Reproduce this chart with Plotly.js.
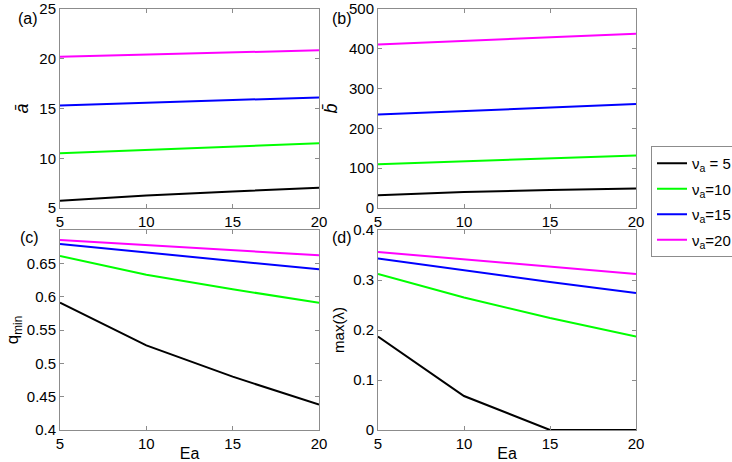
<!DOCTYPE html>
<html>
<head>
<meta charset="utf-8">
<script src="https://cdn.plot.ly/plotly-3.0.1.min.js"></script>
<style>html,body{margin:0;padding:0;background:#fff;}#chart{width:732px;height:462px;}</style>
</head>
<body>
<div id="chart"></div>
<script>
// Data
const Ea = [5, 10, 15, 20];
const seriesNames = ['ν<sub>a</sub> = 5', 'ν<sub>a</sub>=10', 'ν<sub>a</sub>=15', 'ν<sub>a</sub>=20'];
const seriesColors = ['#000000', '#00ff00', '#0000ff', '#ff00ff'];

// panel (a): a-bar
const aBar_5  = [5.72, 6.25, 6.65, 7.04];
const aBar_10 = [10.5, 10.85, 11.2, 11.5];
const aBar_15 = [15.3, 15.6, 15.85, 16.1];
const aBar_20 = [20.2, 20.4, 20.65, 20.85];

// panel (b): b-bar
const bBar_5  = [32, 40, 45, 49];
const bBar_10 = [110, 117, 125, 132];
const bBar_15 = [235, 244, 253, 261];
const bBar_20 = [411, 420, 429, 438];

// panel (c): q_min
const qMin_5  = [0.591, 0.527, 0.480, 0.438];
const qMin_10 = [0.661, 0.633, 0.611, 0.591];
const qMin_15 = [0.679, 0.666, 0.653, 0.641];
const qMin_20 = [0.685, 0.677, 0.669, 0.662];

// panel (d): max(lambda)
const maxLam_5  = [0.187, 0.068, 0, 0];
const maxLam_10 = [0.312, 0.265, 0.224, 0.187];
const maxLam_15 = [0.343, 0.319, 0.296, 0.274];
const maxLam_20 = [0.356, 0.341, 0.326, 0.312];

const panels = [
  {xa: 'x', ya: 'y', data: [aBar_5, aBar_10, aBar_15, aBar_20], legend: false},
  {xa: 'x2', ya: 'y2', data: [bBar_5, bBar_10, bBar_15, bBar_20], legend: false},
  {xa: 'x3', ya: 'y3', data: [qMin_5, qMin_10, qMin_15, qMin_20], legend: false},
  {xa: 'x4', ya: 'y4', data: [maxLam_5, maxLam_10, maxLam_15, maxLam_20], legend: true}
];

const traces = [];
panels.forEach(p => {
  p.data.forEach((vals, i) => {
    traces.push({
      x: Ea, y: vals, xaxis: p.xa, yaxis: p.ya, type: 'scatter', mode: 'lines',
      name: seriesNames[i], line: {color: seriesColors[i], width: 2},
      legendgroup: 'g' + i, showlegend: p.legend
    });
  });
});

const W = 732, H = 462;
const col1 = [60 / W, 319 / W], col2 = [378 / W, 636 / W];
const row1 = [1 - 208 / H, 1 - 9 / H], row2 = [1 - 430 / H, 1 - 230 / H];

const FONT = 'Liberation Sans, Arial, Helvetica, sans-serif';
function ax(extra) {
  return Object.assign({
    showline: true, mirror: 'ticks', linecolor: '#8c8c8c', linewidth: 1,
    ticks: 'inside', ticklen: 4, tickcolor: '#8c8c8c', tickwidth: 1,
    showgrid: false, zeroline: false, automargin: false,
    ticklabeloverflow: 'allow',
    tickfont: {family: FONT, size: 15, color: '#000'}
  }, extra);
}
const xTicks = {tickvals: [5, 10, 15, 20], ticktext: ['5', '10', '15', '20'], range: [5, 20]};

const layout = {
  width: W, height: H,
  margin: {l: 0, r: 0, t: 0, b: 0, autoexpand: false},
  paper_bgcolor: '#fff', plot_bgcolor: '#fff',
  font: {family: FONT, color: '#000'},
  xaxis: ax(Object.assign({domain: col1, anchor: 'y'}, xTicks)),
  yaxis: ax({domain: row1, anchor: 'x', range: [5, 25], tickvals: [5, 10, 15, 20, 25],
    title: {text: '<i>ā</i>', font: {size: 18, family: FONT}, standoff: 6}}),
  xaxis2: ax(Object.assign({domain: col2, anchor: 'y2'}, xTicks)),
  yaxis2: ax({domain: row1, anchor: 'x2', range: [0, 500], tickvals: [0, 100, 200, 300, 400, 500],
    title: {text: '<i>b̄</i>', font: {size: 18, family: FONT}, standoff: 6}}),
  xaxis3: ax(Object.assign({domain: col1, anchor: 'y3',
    title: {text: 'Ea', font: {size: 16, family: FONT}, standoff: 1}}, xTicks)),
  yaxis3: ax({domain: row2, anchor: 'x3', range: [0.4, 0.7],
    tickvals: [0.4, 0.45, 0.5, 0.55, 0.6, 0.65], ticktext: ['0.4', '0.45', '0.5', '0.55', '0.6', '0.65'],
    title: {text: 'q<sub>min</sub>', font: {size: 17, family: FONT}, standoff: 3}}),
  xaxis4: ax(Object.assign({domain: col2, anchor: 'y4',
    title: {text: 'Ea', font: {size: 16, family: FONT}, standoff: 1}}, xTicks)),
  yaxis4: ax({domain: row2, anchor: 'x4', range: [0, 0.4],
    tickvals: [0, 0.1, 0.2, 0.3, 0.4], ticktext: ['0', '0.1', '0.2', '0.3', '0.4'],
    title: {text: 'max(λ)', font: {size: 15, family: FONT}, standoff: 4}}),
  legend: {
    x: 651 / W, y: 1 - 146 / H, xanchor: 'left', yanchor: 'top',
    bordercolor: '#8c8c8c', borderwidth: 1, bgcolor: '#fff',
    font: {family: FONT, size: 15, color: '#000'},
    itemwidth: 30, tracegroupgap: 3
  },
  annotations: [
    {text: '(a)', xref: 'paper', yref: 'paper', x: 16 / W, y: 1 - 18 / H, showarrow: false, xanchor: 'left', yanchor: 'middle', font: {size: 16, family: FONT}},
    {text: '(b)', xref: 'paper', yref: 'paper', x: 330 / W, y: 1 - 18 / H, showarrow: false, xanchor: 'left', yanchor: 'middle', font: {size: 16, family: FONT}},
    {text: '(c)', xref: 'paper', yref: 'paper', x: 18 / W, y: 1 - 237 / H, showarrow: false, xanchor: 'left', yanchor: 'middle', font: {size: 16, family: FONT}},
    {text: '(d)', xref: 'paper', yref: 'paper', x: 330 / W, y: 1 - 237 / H, showarrow: false, xanchor: 'left', yanchor: 'middle', font: {size: 16, family: FONT}}
  ]
};

Plotly.newPlot('chart', traces, layout, {staticPlot: true, displayModeBar: false});
</script>
</body>
</html>
